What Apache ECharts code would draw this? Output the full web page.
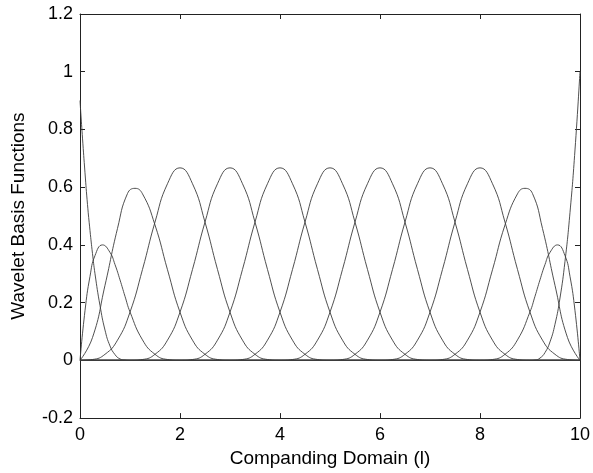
<!DOCTYPE html>
<html>
<head>
<meta charset="utf-8">
<title>Wavelet Basis Functions</title>
<script src="https://cdn.jsdelivr.net/npm/echarts@6/dist/echarts.min.js"></script>
<style>
  html, body { margin: 0; padding: 0; background: #ffffff; }
  #chart { width: 593px; height: 473px; }
</style>
</head>
<body>
<div id="chart"></div>
<script>
// Basis functions over the companding domain, each as [l, value] pairs.
const edgeLeft = [[0,0.9],[0.05,0.77],[0.1,0.65],[0.15,0.54],[0.2,0.45],[0.25,0.37],[0.3,0.3],[0.4,0.19],[0.5,0.105],[0.6,0.05],[0.7,0.02],[0.8,0.005],[0.9,0.001],[1,0],[10,0]];
const halfLeft = [[0,0],[0.1,0.172],[0.2,0.291],[0.3,0.363],[0.45,0.4],[0.6,0.374],[0.7,0.332],[0.8,0.279],[0.9,0.222],[1,0.168],[1.25,0.071],[1.5,0.021],[1.75,0.003],[2,0],[10,0]];
const innerLeft = [[0,0],[0.25,0.079],[0.5,0.26],[0.75,0.457],[0.95,0.578],[1.1,0.596],[1.25,0.577],[1.5,0.469],[1.75,0.314],[2,0.167],[2.25,0.07],[2.5,0.021],[2.75,0.003],[3,0],[10,0]];

const bump2 = [[0,0],[0.25,0.003],[0.5,0.021],[0.75,0.07],[1,0.167],[1.25,0.315],[1.5,0.479],[1.75,0.612],[2,0.667],[2.25,0.612],[2.5,0.479],[2.75,0.315],[3,0.167],[3.25,0.07],[3.5,0.021],[3.75,0.003],[4,0],[10,0]];
const bump3 = [[0,0],[1,0],[1.25,0.003],[1.5,0.021],[1.75,0.07],[2,0.167],[2.25,0.315],[2.5,0.479],[2.75,0.612],[3,0.667],[3.25,0.612],[3.5,0.479],[3.75,0.315],[4,0.167],[4.25,0.07],[4.5,0.021],[4.75,0.003],[5,0],[10,0]];
const bump4 = [[0,0],[2,0],[2.25,0.003],[2.5,0.021],[2.75,0.07],[3,0.167],[3.25,0.315],[3.5,0.479],[3.75,0.612],[4,0.667],[4.25,0.612],[4.5,0.479],[4.75,0.315],[5,0.167],[5.25,0.07],[5.5,0.021],[5.75,0.003],[6,0],[10,0]];
const bump5 = [[0,0],[3,0],[3.25,0.003],[3.5,0.021],[3.75,0.07],[4,0.167],[4.25,0.315],[4.5,0.479],[4.75,0.612],[5,0.667],[5.25,0.612],[5.5,0.479],[5.75,0.315],[6,0.167],[6.25,0.07],[6.5,0.021],[6.75,0.003],[7,0],[10,0]];
const bump6 = [[0,0],[4,0],[4.25,0.003],[4.5,0.021],[4.75,0.07],[5,0.167],[5.25,0.315],[5.5,0.479],[5.75,0.612],[6,0.667],[6.25,0.612],[6.5,0.479],[6.75,0.315],[7,0.167],[7.25,0.07],[7.5,0.021],[7.75,0.003],[8,0],[10,0]];
const bump7 = [[0,0],[5,0],[5.25,0.003],[5.5,0.021],[5.75,0.07],[6,0.167],[6.25,0.315],[6.5,0.479],[6.75,0.612],[7,0.667],[7.25,0.612],[7.5,0.479],[7.75,0.315],[8,0.167],[8.25,0.07],[8.5,0.021],[8.75,0.003],[9,0],[10,0]];
const bump8 = [[0,0],[6,0],[6.25,0.003],[6.5,0.021],[6.75,0.07],[7,0.167],[7.25,0.315],[7.5,0.479],[7.75,0.612],[8,0.667],[8.25,0.612],[8.5,0.479],[8.75,0.315],[9,0.167],[9.25,0.07],[9.5,0.021],[9.75,0.003],[10,0]];

const innerRight = [[0,0],[7,0],[7.25,0.003],[7.5,0.021],[7.75,0.07],[8,0.167],[8.25,0.314],[8.5,0.469],[8.75,0.577],[8.9,0.596],[9.05,0.578],[9.25,0.457],[9.5,0.26],[9.75,0.079],[10,0]];
const halfRight = [[0,0],[8,0],[8.25,0.003],[8.5,0.021],[8.75,0.071],[9,0.168],[9.1,0.222],[9.2,0.279],[9.3,0.332],[9.4,0.374],[9.55,0.4],[9.7,0.363],[9.8,0.291],[9.9,0.172],[10,0]];
const edgeRight = [[0,0],[9,0],[9.1,0.001],[9.2,0.008],[9.3,0.027],[9.4,0.064],[9.5,0.125],[9.6,0.216],[9.7,0.343],[9.8,0.512],[9.9,0.729],[10,1]];

const basis = [edgeLeft, halfLeft, innerLeft, bump2, bump3, bump4, bump5, bump6, bump7, bump8, innerRight, halfRight, edgeRight];

const xRange = { min: 0, max: 10, interval: 2 };
const yRange = { min: -0.2, max: 1.2, interval: 0.2 };

const FONT = '"Liberation Sans", Arial, Helvetica, sans-serif';
const INK = '#222222';
const CURVE = '#3c3c3c';

function frameAxis(extra) {
  return Object.assign({
    type: 'value',
    axisLine: { show: true, onZero: false, lineStyle: { color: INK, width: 1 } },
    axisTick: { show: true, inside: true, length: 5, lineStyle: { color: INK, width: 1 } },
    splitLine: { show: false },
    axisLabel: { show: false }
  }, extra);
}

const chart = echarts.init(document.getElementById('chart'), null, { renderer: 'canvas' });
chart.setOption({
  animation: false,
  backgroundColor: '#ffffff',
  grid: { left: 80, right: 11, top: 14, bottom: 54, containLabel: false },
  xAxis: [
    frameAxis(Object.assign({}, xRange, {
      position: 'bottom',
      axisLabel: { show: true, color: '#000', fontSize: 18, fontFamily: FONT, margin: 8 },
      name: 'Companding Domain (l)',
      nameLocation: 'middle',
      nameGap: 30,
      nameTextStyle: { color: '#000', fontSize: 19, fontFamily: FONT }
    })),
    frameAxis(Object.assign({}, xRange, { position: 'top' }))
  ],
  yAxis: [
    frameAxis(Object.assign({}, yRange, {
      position: 'left',
      axisLabel: { show: true, color: '#000', fontSize: 18, fontFamily: FONT, margin: 7 },
      name: 'Wavelet Basis Functions',
      nameLocation: 'middle',
      nameGap: 52,
      nameTextStyle: { color: '#000', fontSize: 19, fontFamily: FONT }
    })),
    frameAxis(Object.assign({}, yRange, { position: 'right' }))
  ],
  series: basis.map(function (pts) {
    return {
      type: 'line',
      xAxisIndex: 0,
      yAxisIndex: 0,
      data: pts,
      smooth: 0.5,
      symbol: 'none',
      lineStyle: { color: CURVE, width: 0.9 },
      silent: true
    };
  })
});
</script>
</body>
</html>
